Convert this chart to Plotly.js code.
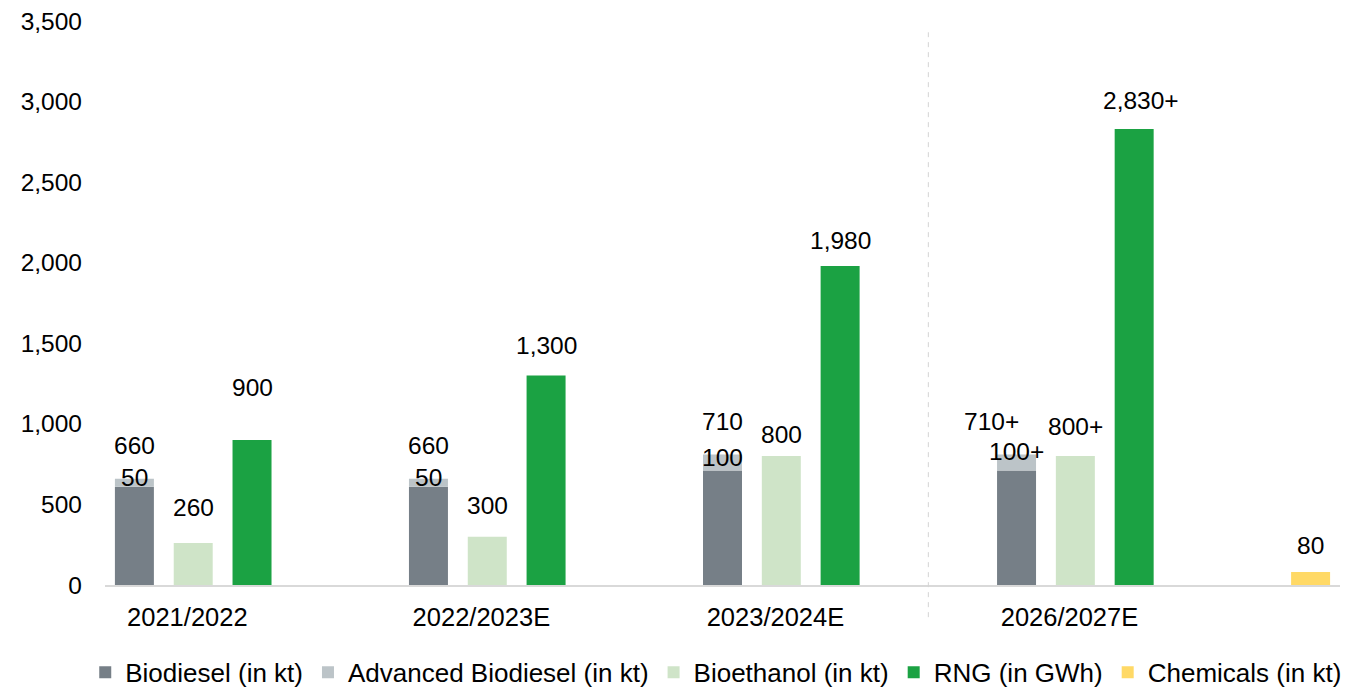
<!DOCTYPE html>
<html>
<head>
<meta charset="utf-8">
<script src="https://cdn.plot.ly/plotly-3.0.1.min.js"></script>
<style>
  html, body { margin: 0; padding: 0; background: #ffffff; }
  #chart { width: 1364px; height: 687px; }
</style>
</head>
<body>
<div id="chart"></div>
<script>
// Production volumes per season
const categories = ["2021/2022", "2022/2023E", "2023/2024E", "2026/2027E"];
const biodiesel = [610, 610, 710, 710];
const advancedBiodiesel = [50, 50, 100, 100];
const bioethanol = [260, 300, 800, 800];
const rng = [900, 1300, 1980, 2830];
const chemicals = [80];

// Value labels
const biodieselLabels = ["660", "660", "710", "710+"];
const advancedLabels = ["50", "50", "100", "100+"];
const bioethanolLabels = ["260", "300", "800", "800+"];
const rngLabels = ["900", "1,300", "1,980", "2,830+"];
const chemicalsLabels = ["80"];

const seriesNames = [
  "Biodiesel (in kt)",
  "Advanced Biodiesel (in kt)",
  "Bioethanol (in kt)",
  "RNG (in GWh)",
  "Chemicals (in kt)"
];
const yTicks = [0, 500, 1000, 1500, 2000, 2500, 3000, 3500];

// ---- layout helpers (slot-based x positions) ----
const SLOTS_PER_GROUP = 5;
const BAR_W = 0.663;
const FONT = "Liberation Sans, Arial, sans-serif";
const colors = {
  biodiesel: "#767f87",
  advanced: "#bcc4c8",
  bioethanol: "#cfe4c8",
  rng: "#1ba243",
  chemicals: "#ffd966"
};

const groupX = (g, slot) => g * SLOTS_PER_GROUP + slot;
const xBio = categories.map((_, g) => groupX(g, 0));
const xEth = categories.map((_, g) => groupX(g, 1));
const xRng = categories.map((_, g) => groupX(g, 2));
const xChem = chemicals.map((_, i) => groupX(categories.length + i, 0));
const stackTop = biodiesel.map((v, i) => v + advancedBiodiesel[i]);

function barTrace(name, x, y, color, base) {
  const t = {
    type: "bar",
    name: name,
    x: x,
    y: y,
    width: BAR_W,
    marker: { color: color, line: { width: 0 } },
    hoverinfo: "skip"
  };
  if (base) t.base = base;
  return t;
}

const traces = [
  barTrace(seriesNames[0], xBio, biodiesel, colors.biodiesel),
  barTrace(seriesNames[1], xBio, advancedBiodiesel, colors.advanced, biodiesel),
  barTrace(seriesNames[2], xEth, bioethanol, colors.bioethanol),
  barTrace(seriesNames[3], xRng, rng, colors.rng),
  barTrace(seriesNames[4], xChem, chemicals, colors.chemicals)
];

// label placement (pixel lifts above the bar tops)
const lift = {
  biodiesel: [33, 33, 33, 33],
  advanced: [1, 1, -3, 3],
  bioethanol: [36, 31, 22, 30],
  rng: [52, 30, 25, 28],
  chemicals: [27]
};
const nudgeX = {
  biodiesel: [0, 0, 0, -25],
  rng: [0, 0, 0, 7]
};

const annotations = [];
function addLabels(xs, ys, texts, lifts, nudges) {
  xs.forEach((x, i) => {
    annotations.push({
      x: x, y: ys[i], xref: "x", yref: "y",
      text: texts[i], showarrow: false,
      xanchor: "center", yanchor: "middle",
      yshift: lifts[i], xshift: nudges ? nudges[i] : 0,
      font: { family: FONT, size: 24.5, color: "#000000" }
    });
  });
}
addLabels(xBio, stackTop, biodieselLabels, lift.biodiesel, nudgeX.biodiesel);
addLabels(xBio, stackTop, advancedLabels, lift.advanced);
addLabels(xEth, bioethanol, bioethanolLabels, lift.bioethanol);
addLabels(xRng, rng, rngLabels, lift.rng, nudgeX.rng);
addLabels(xChem, chemicals, chemicalsLabels, lift.chemicals);

const lastX = xChem[xChem.length - 1];
// divider between near-term estimates and the long-term outlook
const dividerX = (groupX(2, 2) + groupX(3, 0)) / 2;

const layout = {
  width: 1364,
  height: 687,
  margin: { l: 105, r: 24, t: 21, b: 102, autoexpand: false },
  paper_bgcolor: "#ffffff",
  plot_bgcolor: "#ffffff",
  barmode: "overlay",
  showlegend: true,
  font: { family: FONT, size: 24, color: "#000000" },
  xaxis: {
    range: [-0.5, lastX + 0.5],
    tickmode: "array",
    tickvals: categories.map((_, g) => groupX(g, 0.9)),
    ticktext: categories,
    ticks: "",
    showgrid: false,
    zeroline: false,
    showline: true,
    linecolor: "#d9d9d9",
    linewidth: 2,
    ticklabelstandoff: 8,
    tickfont: { family: FONT, size: 25.5, color: "#000000" },
    fixedrange: true
  },
  yaxis: {
    range: [0, 3500],
    tickmode: "array",
    tickvals: yTicks,
    tickformat: ",",
    ticks: "",
    showgrid: false,
    zeroline: false,
    showline: false,
    ticklabelstandoff: 22,
    tickfont: { family: FONT, size: 24.5, color: "#000000" },
    fixedrange: true
  },
  legend: {
    orientation: "h",
    x: -0.016,
    xanchor: "left",
    y: -0.155,
    yanchor: "middle",
    font: { family: FONT, size: 26, color: "#000000" },
    itemwidth: 30,
    traceorder: "normal",
    bgcolor: "rgba(0,0,0,0)"
  },
  shapes: [{
    type: "line",
    xref: "x", yref: "paper",
    x0: dividerX, x1: dividerX,
    y0: -0.057, y1: 0.98,
    line: { color: "#d4d4d4", width: 1, dash: "5px,5px" }
  }],
  annotations: annotations
};

Plotly.newPlot("chart", traces, layout, { displayModeBar: false, staticPlot: true });
</script>
</body>
</html>
